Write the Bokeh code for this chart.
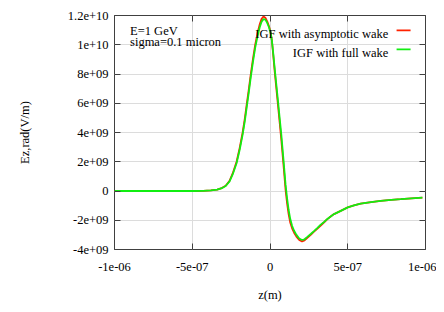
from bokeh.plotting import figure
from bokeh.models import Range1d, FixedTicker, LinearAxis, Label, BoxAnnotation
from bokeh.embed import file_html
from bokeh.resources import INLINE

# ---- data ----
x_ticks = [-1e-06, -5e-07, 0.0, 5e-07, 1e-06]
x_tick_labels = ["-1e-06", "-5e-07", "0", "5e-07", "1e-06"]
y_ticks = [-4e9, -2e9, 0.0, 2e9, 4e9, 6e9, 8e9, 1e10, 1.2e10]
y_tick_labels = ["-4e+09", "-2e+09", "0", "2e+09", "4e+09", "6e+09", "8e+09", "1e+10", "1.2e+10"]

series_names = ["IGF with asymptotic wake", "IGF with full wake"]
series_colors = ["#ff2200", "#11ee11"]

z_asym = [-10.0e-7, -7.0e-7, -5.0e-7, -4.3e-7, -3.8e-7, -3.4e-7, -3.1e-7, -2.85e-7, -2.6e-7, -2.4e-7,
          -2.15e-7, -1.95e-7, -1.76e-7, -1.62e-7, -1.5e-7, -1.37e-7, -1.24e-7, -1.1e-7, -0.95e-7, -0.8e-7,
          -0.66e-7, -0.54e-7, -0.42e-7, -0.3e-7, -0.18e-7, -0.06e-7, 0.04e-7, 0.12e-7, 0.2e-7, 0.3e-7,
          0.4e-7, 0.52e-7, 0.62e-7, 0.72e-7, 0.85e-7, 0.93e-7, 1.0e-7, 1.1e-7, 1.2e-7, 1.3e-7,
          1.42e-7, 1.55e-7, 1.7e-7, 1.88e-7, 2.06e-7, 2.22e-7, 2.4e-7, 2.62e-7, 2.83e-7, 3.05e-7,
          3.26e-7, 3.5e-7, 3.69e-7, 3.9e-7, 4.12e-7, 4.55e-7, 5.0e-7, 5.4e-7, 5.83e-7, 6.5e-7,
          7.12e-7, 7.8e-7, 8.41e-7, 9.1e-7, 9.8e-7]
ez_asym = [0.0, 0.0, 0.0, 0.01e9, 0.04e9, 0.1e9, 0.2e9, 0.36e9, 0.7e9, 1.2e9,
           2.0e9, 2.95e9, 4.0e9, 4.95e9, 5.9e9, 6.9e9, 7.95e9, 9.0e9, 10.0e9, 10.8e9,
           11.4e9, 11.78e9, 11.93e9, 11.85e9, 11.6e9, 11.25e9, 10.85e9, 10.3e9, 9.4e9, 8.2e9,
           7.1e9, 5.8e9, 4.7e9, 3.6e9, 2.0e9, 1.0e9, 0.1e9, -0.85e9, -1.6e9, -2.15e9,
           -2.55e9, -2.85e9, -3.12e9, -3.35e9, -3.45e9, -3.38e9, -3.2e9, -3.0e9, -2.78e9, -2.57e9,
           -2.37e9, -2.12e9, -1.92e9, -1.74e9, -1.58e9, -1.36e9, -1.12e9, -0.98e9, -0.86e9, -0.76e9,
           -0.68e9, -0.61e9, -0.56e9, -0.5e9, -0.45e9]

z_full = list(z_asym)
ez_full = [0.0, 0.0, 0.0, 0.01e9, 0.04e9, 0.09e9, 0.19e9, 0.34e9, 0.66e9, 1.13e9,
           1.9e9, 2.82e9, 3.85e9, 4.78e9, 5.7e9, 6.7e9, 7.75e9, 8.8e9, 9.8e9, 10.6e9,
           11.2e9, 11.58e9, 11.75e9, 11.72e9, 11.5e9, 11.18e9, 10.8e9, 10.3e9, 9.5e9, 8.4e9,
           7.35e9, 6.1e9, 5.0e9, 3.95e9, 2.35e9, 1.35e9, 0.45e9, -0.5e9, -1.3e9, -1.9e9,
           -2.38e9, -2.72e9, -3.0e9, -3.25e9, -3.35e9, -3.3e9, -3.14e9, -2.94e9, -2.74e9, -2.52e9,
           -2.3e9, -2.1e9, -1.91e9, -1.74e9, -1.58e9, -1.36e9, -1.12e9, -0.98e9, -0.86e9, -0.76e9,
           -0.68e9, -0.61e9, -0.56e9, -0.5e9, -0.45e9]

FONT = "Liberation Serif"
FS = "12.5px"
BORDER = "#404040"

p = figure(width=436, height=304, output_backend="svg", toolbar_location=None,
           x_range=Range1d(x_ticks[0], x_ticks[-1]), y_range=Range1d(y_ticks[0], y_ticks[-1]),
           min_border_left=114, min_border_right=11, min_border_top=15, min_border_bottom=53,
           x_axis_label="z(m)", y_axis_label="Ez,rad(V/m)")
p.background_fill_color = "white"
p.border_fill_color = "white"
p.outline_line_color = BORDER
p.outline_line_width = 1

xt = FixedTicker(ticks=x_ticks)
yt = FixedTicker(ticks=y_ticks)


def style_axis(ax, ticker):
    ax.ticker = ticker
    ax.axis_line_color = None
    ax.major_tick_in = 6
    ax.major_tick_out = 0
    ax.major_tick_line_color = BORDER
    ax.major_tick_line_width = 1
    ax.minor_tick_line_color = None
    ax.major_label_text_font = FONT
    ax.major_label_text_font_size = FS
    ax.major_label_text_color = "black"
    ax.axis_label_text_font = FONT
    ax.axis_label_text_font_size = FS
    ax.axis_label_text_font_style = "normal"
    ax.axis_label_text_color = "black"


xa = p.xaxis[0]
style_axis(xa, xt)
xa.major_label_overrides = dict(zip(x_ticks, x_tick_labels))
xa.major_label_standoff = 13
xa.axis_label_standoff = 14

ya = p.yaxis[0]
style_axis(ya, yt)
ya.major_label_overrides = dict(zip(y_ticks, y_tick_labels))
ya.major_label_standoff = 6
ya.axis_label_standoff = 33

# mirrored ticks on top and right (labels left blank and undrawn)
top_ax = LinearAxis()
style_axis(top_ax, xt)
top_ax.major_label_overrides = {t: "" for t in x_ticks}
top_ax.major_label_text_color = None
top_ax.major_label_standoff = 0
p.add_layout(top_ax, "above")

right_ax = LinearAxis()
style_axis(right_ax, yt)
right_ax.major_label_overrides = {t: "" for t in y_ticks}
right_ax.major_label_text_color = None
right_ax.major_label_standoff = 0
p.add_layout(right_ax, "right")

p.xgrid.ticker = xt
p.ygrid.ticker = yt
p.xgrid.grid_line_color = "#dcdcdc"
p.ygrid.grid_line_color = "#dcdcdc"
p.xgrid.grid_line_width = 1
p.ygrid.grid_line_width = 1

p.line(z_asym, ez_asym, line_color=series_colors[0], line_width=1.8)
p.line(z_full, ez_full, line_color=series_colors[1], line_width=1.8)

# annotation text
p.add_layout(Label(x=-9.0e-7, y=10.96e9, text="E=1 GeV", text_font=FONT, text_font_size=FS,
                   text_baseline="alphabetic", text_align="left", text_color="black"))
p.add_layout(Label(x=-9.0e-7, y=10.2e9, text="sigma=0.1 micron", text_font=FONT, text_font_size=FS,
                   text_baseline="alphabetic", text_align="left", text_color="black"))

# gnuplot-style key: text right-aligned, sample line to the right
key_y = [10.74e9, 9.45e9]
for name, col, ky in zip(series_names, series_colors, key_y):
    p.add_layout(Label(x=0.761e-6, y=ky, text=name, text_font=FONT, text_font_size=FS,
                       text_baseline="alphabetic", text_align="right", text_color="black"))
    p.add_layout(BoxAnnotation(left=0.814e-6, right=0.904e-6, bottom=ky + 0.18e9, top=ky + 0.3e9,
                               fill_color=col, fill_alpha=1.0, line_color=None))

open("out.html", "w").write(file_html(p, INLINE))
